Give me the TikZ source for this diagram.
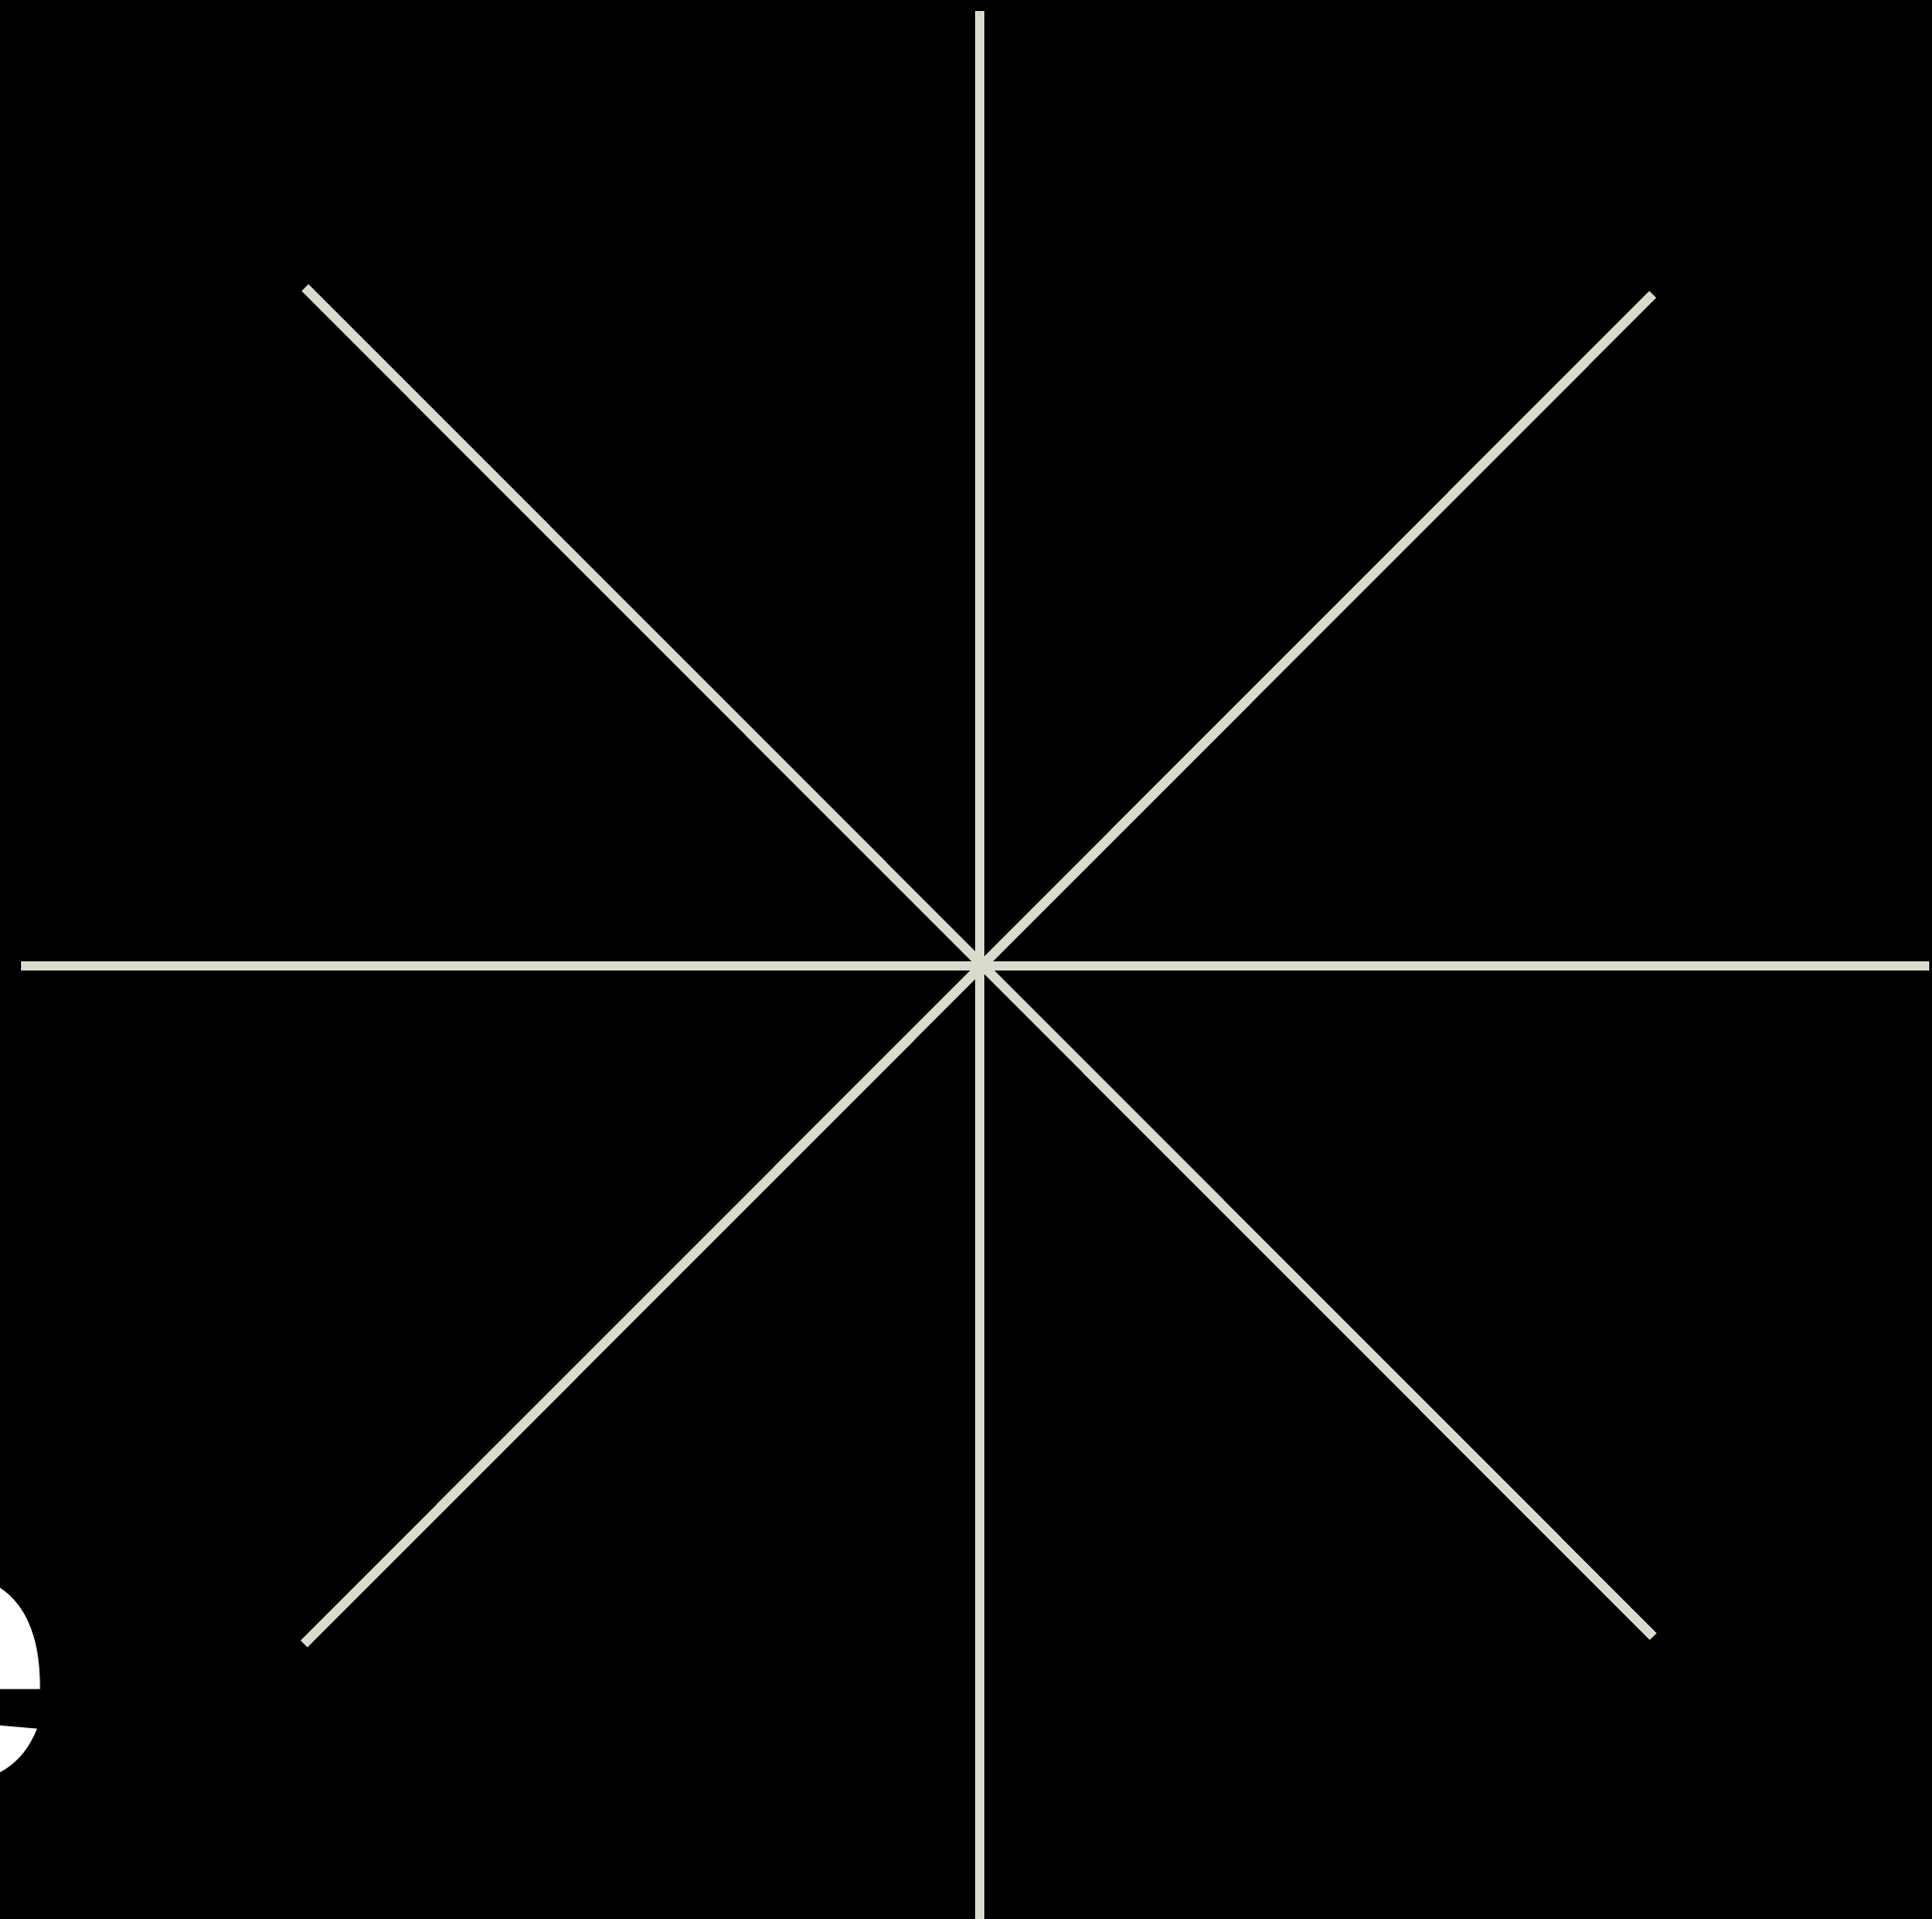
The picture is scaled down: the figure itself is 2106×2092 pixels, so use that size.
\documentclass[tikz,border=0pt]{standalone}
\usepackage{fontspec}
\setmainfont{Liberation Sans}
\definecolor{ray}{RGB}{217,219,205}
\begin{document}
\begin{tikzpicture}[x=1pt,y=-1pt,
  rayline/.style={draw=ray,line width=10.5pt}]
\fill[black] (0,0) rectangle (2106,2092);
\useasboundingbox (0,0) rectangle (2106,2092);
\coordinate (c) at (1068,1053);
\coordinate (n) at (1068,12);
\coordinate (s) at (1068,2100);
\coordinate (w) at (23,1053);
\coordinate (e) at (2103,1053);
\coordinate (nw) at (332.5,313.5);
\coordinate (ne) at (1801.5,321);
\coordinate (sw) at (331.5,1792);
\coordinate (se) at (1802,1784);
\draw[rayline] (n) -- (s);
\draw[rayline] (w) -- (e);
\draw[rayline] (nw) -- (se);
\draw[rayline] (ne) -- (sw);
\node[text=white,font=\bfseries\fontsize{415}{415}\selectfont,inner sep=0pt,anchor=base east] (letter) at (59,1940) {e};
\end{tikzpicture}
\end{document}
